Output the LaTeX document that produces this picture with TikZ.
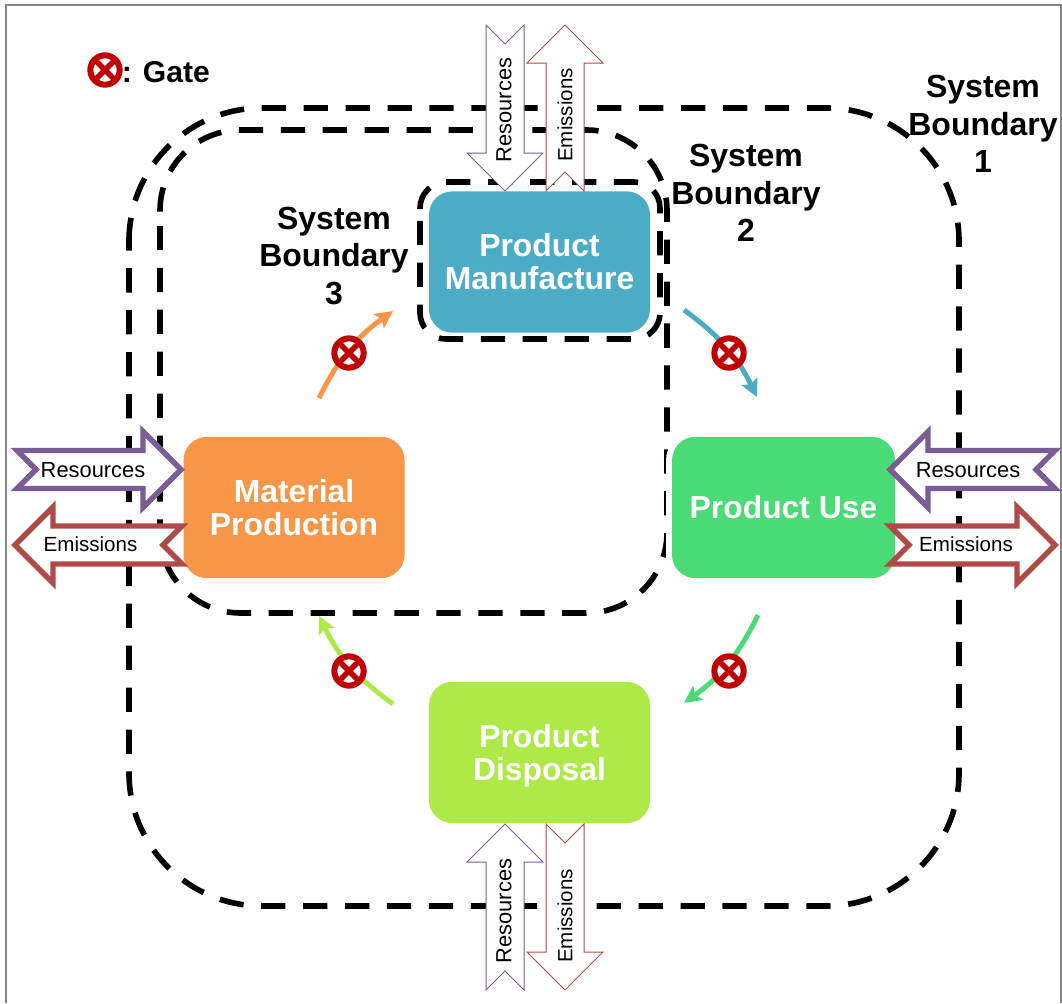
\documentclass[tikz,border=0pt]{standalone}
\usepackage{fontspec}
\setmainfont{Liberation Sans}
\usepackage{xcolor}
\usetikzlibrary{positioning,arrows.meta}
\definecolor{manublue}{HTML}{4BACC6}
\definecolor{matorange}{HTML}{F79646}
\definecolor{usegreen}{HTML}{4ADB76}
\definecolor{displime}{HTML}{AEEA47}
\definecolor{respurple}{HTML}{7A5C97}
\definecolor{emisred}{HTML}{AF4A47}
\definecolor{gatered}{HTML}{C00000}
\definecolor{framegray}{HTML}{858585}
\tikzset{
  stage/.style={fill=#1, rounded corners=17.6pt, minimum width=165.75pt, minimum height=106pt,
    inner sep=0pt, text=white, align=center, font=\fontsize{23.9}{24.75}\bfseries\selectfont},
  boundary/.style={draw=black, line width=4.2pt, dash pattern=on 18.2pt off 13.25pt},
  boundlabel/.style={align=center, inner sep=0pt, font=\fontsize{24}{28}\bfseries\selectfont},
  reslabel/.style={inner sep=0pt, font=\fontsize{16.4}{18}\selectfont},
  emislabel/.style={inner sep=0pt, font=\fontsize{15.4}{18}\selectfont},
  gate/.style={circle, fill=white, draw=gatered, line width=4.5pt, minimum size=22pt, inner sep=0pt,
    path picture={
      \draw[gatered, line width=4pt] (path picture bounding box.north west) -- (path picture bounding box.south east);
      \draw[gatered, line width=4pt] (path picture bounding box.north east) -- (path picture bounding box.south west);
    }},
  cycleflow/.style={-{Stealth[length=13pt,width=13pt,inset=2.5pt]}, line width=3.7pt, draw=#1},
}
% name of colour, width of outline, tail point, angle, length
\newcommand{\blockarrow}[5]{
  \draw[draw=#1, fill=white, line width=#2, shift={(#3)}, rotate=#4]
    (0,-19) -- (19,0) -- (0,19) -- (#5-38,19) -- (#5-38,38) -- (#5,0)
    -- (#5-38,-38) -- (#5-38,-19) -- cycle;
}
\begin{document}
\begin{tikzpicture}[x=0.75pt,y=-0.75pt]
  \useasboundingbox (0,0) rectangle (1062,1003);
  \draw[framegray, line width=1.5pt] (6,1003) -- (6,5) -- (1061,5) -- (1061,1003);

  % the three boundaries
  \draw[boundary, rounded corners=99.75pt] (129,242) -- (129,108) -- (959,108) -- (959,906) -- (129,906) -- (129,242);
  \draw[boundary, rounded corners=60.4pt] (160,211.5) -- (160,130) -- (667,130) -- (667,613) -- (160,613) -- (160,211.5);
  \draw[boundary, rounded corners=19.6pt] (420,209) -- (420,182) -- (660,182) -- (660,339) -- (420,339) -- (420,209);

  % life cycle stages
  \node[stage=manublue] (manu) at (539.5,262) {Product\\Manufacture};
  \node[stage=matorange] (mat) at (294,507.5) {Material\\Production};
  \node[stage=usegreen, minimum width=167.25pt, preaction={draw=white, line width=9pt}] (use) at (783.5,507.5) {Product Use};
  \node[stage=displime, text depth=0pt] (disp) at (539.5,752.5) {Product\\Disposal};

  % resources and emissions
  \blockarrow{respurple}{4pt}{17,469.5}{0}{164}
  \blockarrow{emisred}{4pt}{182,545}{180}{167}
  \blockarrow{respurple}{4pt}{1055,469.5}{180}{165}
  \blockarrow{emisred}{4pt}{890,545}{0}{165}
  \blockarrow{respurple}{0.75pt}{505,25}{-90}{166}
  \blockarrow{emisred}{0.75pt}{565,191}{90}{166}
  \blockarrow{respurple}{0.75pt}{505,990}{90}{166}
  \blockarrow{emisred}{0.75pt}{565,824}{-90}{166}

  \node[reslabel] (resLeft) at (93,470) {Resources};
  \node[emislabel] (emisLeft) at (90.5,544) {Emissions};
  \node[reslabel] (resRight) at (968,470) {Resources};
  \node[emislabel] (emisRight) at (966,544) {Emissions};
  \node[reslabel, rotate=90] (resTop) at (504,110) {Resources};
  \node[emislabel, rotate=90] (emisTop) at (565,115) {Emissions};
  \node[reslabel, rotate=90] (resBot) at (504,911) {Resources};
  \node[emislabel, rotate=90] (emisBot) at (565,916) {Emissions};

  % flow between the stages
  \coordinate (matOut) at (319,398);
  \coordinate (manuIn) at (393,311);
  \coordinate (manuOut) at (684,310);
  \coordinate (useIn) at (757,397);
  \coordinate (useOut) at (758,615);
  \coordinate (dispIn) at (684,703);
  \coordinate (dispOut) at (393,704);
  \coordinate (matIn) at (319,616);
  \draw[cycleflow=matorange] (matOut) to[bend left=14] (manuIn);
  \draw[cycleflow=manublue] (manuOut) to[bend left=14] (useIn);
  \draw[cycleflow=usegreen] (useOut) to[bend left=14] (dispIn);
  \draw[cycleflow=displime] (dispOut) to[bend left=14] (matIn);

  \node[gate] (gateA) at (349,353) {};
  \node[gate] (gateB) at (729,353) {};
  \node[gate] (gateC) at (729,671) {};
  \node[gate] (gateD) at (349,671) {};
  \node[gate] (gateKey) at (105,70) {};
  \node[anchor=west, inner sep=0pt, font=\fontsize{22.6}{24}\bfseries\selectfont] (gateText) at (121.5,72) {: Gate};

  \node[boundlabel] (labA) at (983,124) {System\\Boundary\\1};
  \node[boundlabel] (labB) at (746,193) {System\\Boundary\\2};
  \node[boundlabel] (labC) at (334,256) {System\\Boundary\\3};
\end{tikzpicture}
\end{document}
